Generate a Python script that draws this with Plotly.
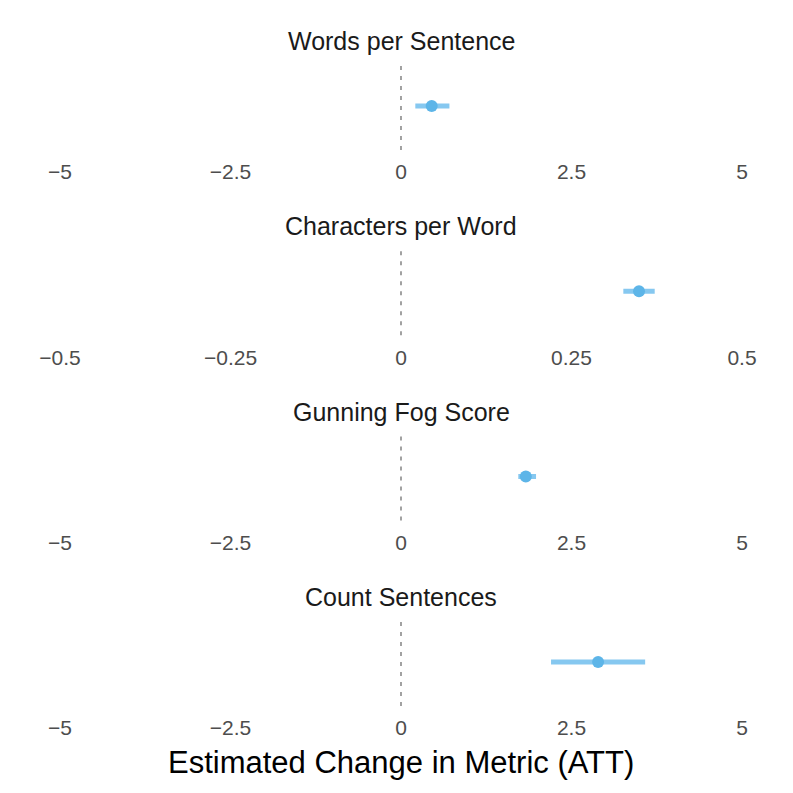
import plotly.graph_objects as go

metrics = ["Words per Sentence", "Characters per Word", "Gunning Fog Score", "Count Sentences"]
estimates = [0.45, 0.349, 1.83, 2.89]
ci_low = [0.21, 0.326, 1.72, 2.2]
ci_high = [0.71, 0.372, 1.98, 3.58]
axis_limits = [5, 0.5, 5, 5]
tick_values = [[-5, -2.5, 0, 2.5, 5], [-0.5, -0.25, 0, 0.25, 0.5], [-5, -2.5, 0, 2.5, 5], [-5, -2.5, 0, 2.5, 5]]
tick_labels = [["\u22125", "\u22122.5", "0", "2.5", "5"],
               ["\u22120.5", "\u22120.25", "0", "0.25", "0.5"],
               ["\u22125", "\u22122.5", "0", "2.5", "5"],
               ["\u22125", "\u22122.5", "0", "2.5", "5"]]

FONT = "Liberation Sans, Arial, sans-serif"
H = 793.0
OFF = 8  # page body margin compensation
step = 185.3
fig = go.Figure()
annotations = []
shapes = []
for i, m in enumerate(metrics):
    n = "" if i == 0 else str(i + 1)
    top = 62 + i * step - OFF
    bot = 150 + i * step - OFF
    fig.add_trace(go.Scatter(
        x=[estimates[i]], y=[0.5], mode="markers",
        marker=dict(size=12, color="#5DB5E8", line=dict(width=0)),
        error_x=dict(type="data", symmetric=False,
                     array=[ci_high[i] - estimates[i]],
                     arrayminus=[estimates[i] - ci_low[i]],
                     thickness=5, width=0, color="#86C8F0"),
        xaxis="x" + n, yaxis="y" + n, showlegend=False, hoverinfo="x"))
    L = axis_limits[i]
    fig.layout["xaxis" + n] = dict(
        domain=[0, 1], anchor="y" + n, range=[-L, L],
        tickvals=tick_values[i], ticktext=tick_labels[i],
        showgrid=False, zeroline=False, showline=False,
        ticks="outside", ticklen=3, tickcolor="rgba(0,0,0,0)",
        tickfont=dict(family=FONT, size=21, color="#4D4D4D"))
    fig.layout["yaxis" + n] = dict(
        domain=[1 - bot / H, 1 - top / H], anchor="x" + n, range=[0, 1],
        showgrid=False, zeroline=False, showline=False, showticklabels=False, ticks="")
    shapes.append(dict(type="line", xref="x" + n, yref=("y" + n + " domain") if n else "y domain",
                       x0=0, x1=0, y0=0, y1=1, layer="below",
                       line=dict(color="#707070", width=1.3, dash="4px,6px")))
    annotations.append(dict(text=m, xref="paper", yref="paper", x=(401 - OFF - 52) / 682,
                            y=1 - (41 + i * step - OFF) / H, xanchor="center", yanchor="middle",
                            showarrow=False,
                            font=dict(family=FONT, size=25, color="#1A1A1A")))

annotations.append(dict(text="Estimated Change in Metric (ATT)", xref="paper", yref="paper",
                        x=(401 - OFF - 52) / 682, y=1 - (762 - OFF) / H, xanchor="center", yanchor="middle",
                        showarrow=False,
                        font=dict(family=FONT, size=31, color="#000000")))

fig.update_layout(width=793, height=793, margin=dict(l=52, r=59, t=0, b=0),
                  paper_bgcolor="white", plot_bgcolor="white",
                  annotations=annotations, shapes=shapes)
fig.write_html("out.html")
